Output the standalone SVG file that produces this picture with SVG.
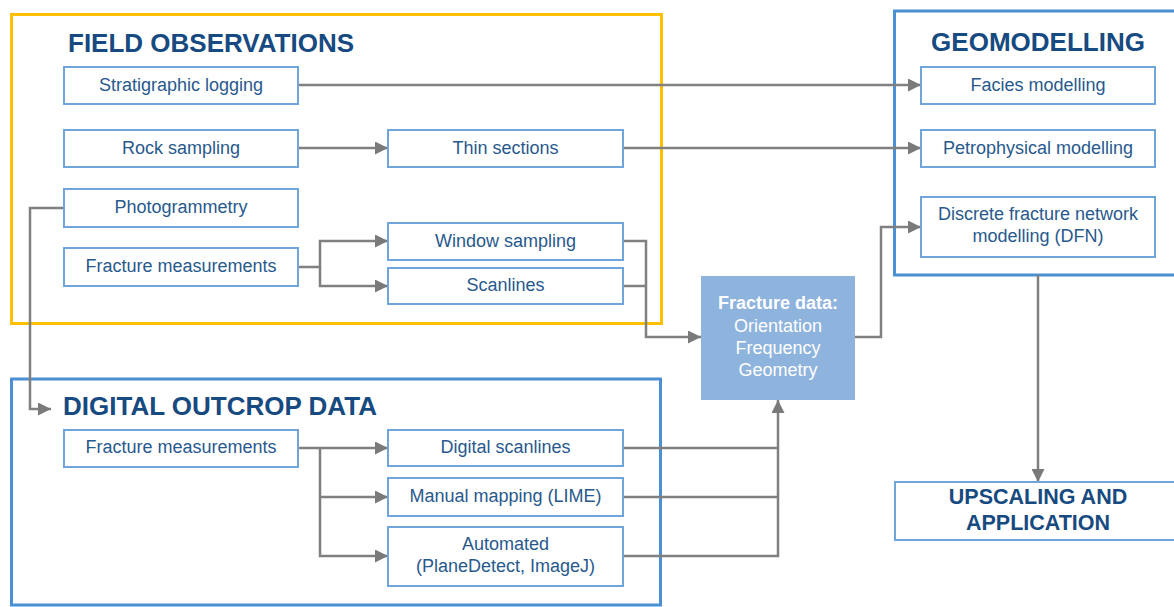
<svg xmlns="http://www.w3.org/2000/svg" width="1174" height="607" viewBox="0 0 1174 607">
  <style>
    .frame-field { fill: none; stroke: #ffc000; stroke-width: 3; }
    .frame-blue { fill: none; stroke: #4a90d2; stroke-width: 3; }
    .box { fill: #ffffff; stroke: #6ea6dc; stroke-width: 2; }
    .data { fill: #8eb3dd; }
    .title { font-family: "Liberation Sans", Arial, sans-serif; font-weight: bold; font-size: 26px; fill: #164a80; }
    .title-sm { font-family: "Liberation Sans", Arial, sans-serif; font-weight: bold; font-size: 21.5px; fill: #164a80; text-anchor: middle; }
    .label { font-family: "Liberation Sans", Arial, sans-serif; font-size: 18px; fill: #28598d; text-anchor: middle; }
    .data-text { font-family: "Liberation Sans", Arial, sans-serif; font-size: 18px; fill: #ffffff; text-anchor: middle; }
    .link { fill: none; stroke: #808080; stroke-width: 2.5; }
  </style>
  <defs>
    <marker id="arrow" viewBox="0 0 13 13" refX="13" refY="6.5" markerWidth="13" markerHeight="13" markerUnits="userSpaceOnUse" orient="auto">
      <path d="M0,0 L13,6.5 L0,13 z" fill="#7a7a7a"/>
    </marker>
  </defs>

  <!-- Group frames -->
  <g id="field-observations">
    <rect class="frame-field" x="11.5" y="14.5" width="650" height="309"/>
    <text class="title" x="68" y="52">FIELD OBSERVATIONS</text>
  </g>
  <g id="digital-outcrop-data">
    <rect class="frame-blue" x="11.5" y="379" width="649" height="226"/>
    <text class="title" x="63" y="415">DIGITAL OUTCROP DATA</text>
  </g>
  <g id="geomodelling">
    <rect class="frame-blue" x="894.5" y="11" width="300" height="264"/>
    <text class="title" x="1038" y="51" text-anchor="middle">GEOMODELLING</text>
  </g>

  <!-- Connectors -->
  <g id="connectors">
    <path class="link" d="M298,85 H921" marker-end="url(#arrow)"/>
    <path class="link" d="M298,148 H388" marker-end="url(#arrow)"/>
    <path class="link" d="M623,148 H921" marker-end="url(#arrow)"/>
    <path class="link" d="M64,208 H30 V409 H51" marker-end="url(#arrow)"/>
    <path class="link" d="M298,267 H320 V241 H388" marker-end="url(#arrow)"/>
    <path class="link" d="M320,267 V286 H388" marker-end="url(#arrow)"/>
    <path class="link" d="M623,241 H646 V337 H701" marker-end="url(#arrow)"/>
    <path class="link" d="M623,286 H646"/>
    <path class="link" d="M855,337 H881 V227 H921" marker-end="url(#arrow)"/>
    <path class="link" d="M1038,275 V482" marker-end="url(#arrow)"/>
    <path class="link" d="M298,448 H388" marker-end="url(#arrow)"/>
    <path class="link" d="M320,448 V556 H388" marker-end="url(#arrow)"/>
    <path class="link" d="M320,497 H388" marker-end="url(#arrow)"/>
    <path class="link" d="M623,448 H778"/>
    <path class="link" d="M623,497 H778"/>
    <path class="link" d="M623,556 H778 V400" marker-end="url(#arrow)"/>
  </g>

  <!-- Field observation nodes -->
  <g id="stratigraphic-logging">
    <rect class="box" x="64" y="67" width="234" height="37"/>
    <text class="label" x="181" y="91">Stratigraphic logging</text>
  </g>
  <g id="rock-sampling">
    <rect class="box" x="64" y="130" width="234" height="37"/>
    <text class="label" x="181" y="154">Rock sampling</text>
  </g>
  <g id="photogrammetry">
    <rect class="box" x="64" y="189" width="234" height="38"/>
    <text class="label" x="181" y="213">Photogrammetry</text>
  </g>
  <g id="fracture-measurements-field">
    <rect class="box" x="64" y="248" width="234" height="38"/>
    <text class="label" x="181" y="272">Fracture measurements</text>
  </g>
  <g id="thin-sections">
    <rect class="box" x="388" y="130" width="235" height="37"/>
    <text class="label" x="505.5" y="154">Thin sections</text>
  </g>
  <g id="window-sampling">
    <rect class="box" x="388" y="223" width="235" height="37"/>
    <text class="label" x="505.5" y="247">Window sampling</text>
  </g>
  <g id="scanlines">
    <rect class="box" x="388" y="268" width="235" height="36"/>
    <text class="label" x="505.5" y="291">Scanlines</text>
  </g>

  <!-- Digital outcrop nodes -->
  <g id="fracture-measurements-digital">
    <rect class="box" x="64" y="430" width="234" height="37"/>
    <text class="label" x="181" y="453">Fracture measurements</text>
  </g>
  <g id="digital-scanlines">
    <rect class="box" x="388" y="430" width="235" height="36"/>
    <text class="label" x="505.5" y="453">Digital scanlines</text>
  </g>
  <g id="manual-mapping">
    <rect class="box" x="388" y="478" width="235" height="38"/>
    <text class="label" x="505.5" y="502">Manual mapping (LIME)</text>
  </g>
  <g id="automated">
    <rect class="box" x="388" y="527" width="235" height="59"/>
    <text class="label" x="505.5" y="550">Automated</text>
    <text class="label" x="505.5" y="572">(PlaneDetect, ImageJ)</text>
  </g>

  <!-- Fracture data -->
  <g id="fracture-data">
    <rect class="data" x="701" y="276" width="154" height="124"/>
    <text class="data-text" x="778" y="309" font-weight="bold">Fracture data:</text>
    <text class="data-text" x="778" y="332">Orientation</text>
    <text class="data-text" x="778" y="354">Frequency</text>
    <text class="data-text" x="778" y="376">Geometry</text>
  </g>

  <!-- Geomodelling nodes -->
  <g id="facies-modelling">
    <rect class="box" x="921" y="67" width="234" height="37"/>
    <text class="label" x="1038" y="91">Facies modelling</text>
  </g>
  <g id="petrophysical-modelling">
    <rect class="box" x="921" y="130" width="234" height="37"/>
    <text class="label" x="1038" y="154">Petrophysical modelling</text>
  </g>
  <g id="dfn-modelling">
    <rect class="box" x="921" y="197" width="234" height="60"/>
    <text class="label" x="1038" y="220">Discrete fracture network</text>
    <text class="label" x="1038" y="242">modelling (DFN)</text>
  </g>

  <!-- Upscaling -->
  <g id="upscaling-application">
    <rect class="box" x="895" y="482" width="290" height="58"/>
    <text class="title-sm" x="1038" y="504">UPSCALING AND</text>
    <text class="title-sm" x="1038" y="530">APPLICATION</text>
  </g>
</svg>
